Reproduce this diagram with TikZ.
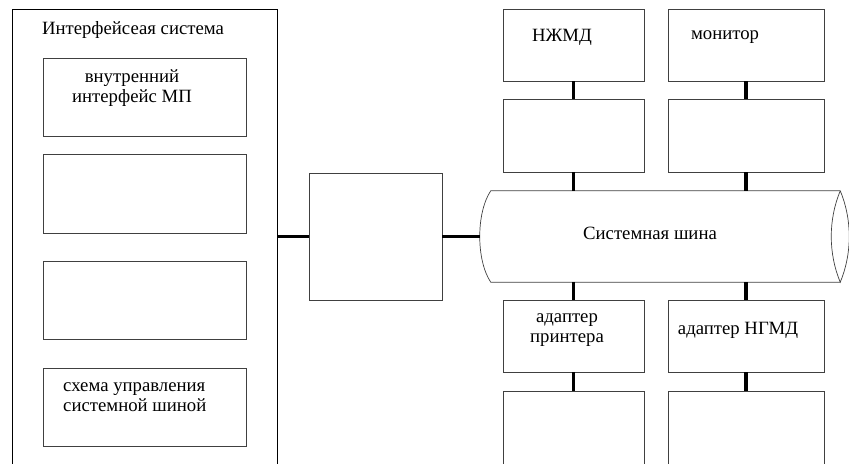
\documentclass[tikz,border=0pt]{standalone}
\usepackage{fontspec}
\setmainfont{Liberation Serif}
\usepackage{tikz}
\usetikzlibrary{shapes.geometric, positioning, calc}

\begin{document}
\begin{tikzpicture}[x=0.03cm, y=-0.03cm,
    blk/.style={draw=black!75, line width=0.6pt, rectangle, inner sep=0pt},
    busline/.style={draw=black!75, line width=0.6pt},
    lbl/.style={font=\fontsize{16}{17.5}\selectfont, inner sep=0pt, align=center},
    link/.style={line width=2.6pt}]
\useasboundingbox (0,0) rectangle (849,463);
\clip (0,0) rectangle (849,463);

% Interface system (left)
\node[blk, draw=black, minimum width=7.95cm, minimum height=14.13cm] (isys) at (144.5,244.5) {};
\node[lbl] (isystitle) at (133,30) {Интерфейсеая система};
\node[blk, minimum width=6.09cm, minimum height=2.34cm] (ib1) at (144.5,97) {};
\node[blk, minimum width=6.09cm, minimum height=2.37cm] (ib2) at (144.5,193.5) {};
\node[blk, minimum width=6.09cm, minimum height=2.34cm] (ib3) at (144.5,300) {};
\node[blk, minimum width=6.09cm, minimum height=2.34cm] (ib4) at (144.5,407) {};
\node[lbl] (ib1txt) at (132,88) {внутренний\\интерфейс МП};
\node[lbl, align=left, anchor=west] (ib4txt) at (63,397) {схема управления\\системной шиной};

% Middle block
\node[blk, minimum width=3.99cm, minimum height=3.81cm] (mid) at (375.5,236.5) {};

% System bus (horizontal cylinder)
\node[inner sep=0pt, minimum width=10.47cm, minimum height=2.73cm] (bus) at (665.5,236.5) {};
\draw[busline] (bus.north east) -- (bus.north west)
  .. controls ($(bus.north west)+(-14.7,22)$) and ($(bus.south west)+(-14.7,-22)$) .. (bus.south west)
  -- (bus.south east);
\draw[busline] (bus.north east)
  .. controls ($(bus.north east)+(-12,29)$) and ($(bus.south east)+(-12,-29)$) .. (bus.south east)
  .. controls ($(bus.south east)+(12,-29)$) and ($(bus.north east)+(12,29)$) .. (bus.north east);
\coordinate (buswest) at ($(bus.west)+(-11,0)$);
\node[lbl] (bustxt) at (650,233) {Системная шина};

% Devices above the bus
\node[blk, minimum width=4.23cm, minimum height=2.16cm] (hdd) at (573.5,45) {};
\node[blk, minimum width=4.68cm, minimum height=2.16cm] (mon) at (746,45) {};
\node[blk, minimum width=4.23cm, minimum height=2.19cm] (hddc) at (573.5,135.5) {};
\node[blk, minimum width=4.68cm, minimum height=2.19cm] (monc) at (746,135.5) {};
\node[lbl] (hddtxt) at (562,37) {НЖМД};
\node[lbl] (montxt) at (725,37) {монитор};

% Devices below the bus
\node[blk, minimum width=4.23cm, minimum height=2.16cm] (prn) at (573.5,336) {};
\node[blk, minimum width=4.68cm, minimum height=2.16cm] (fdd) at (746,336) {};
\node[blk, minimum width=4.23cm, minimum height=2.67cm] (prnd) at (573.5,435.5) {};
\node[blk, minimum width=4.68cm, minimum height=2.67cm] (fddd) at (746,435.5) {};
\node[lbl] (prntxt) at (567,330) {адаптер\\принтера};
\node[lbl] (fddtxt) at (738,330) {адаптер НГМД};

% Links
\draw[link] (isys.east |- mid.west) -- (mid.west);
\draw[link] (mid.east) -- (buswest);
\draw[link] (hdd) -- (hddc);
\draw[link] (mon) -- (monc);
\draw[link] (hddc) -- (hddc.south |- bus.north);
\draw[link] (monc) -- (monc.south |- bus.north);
\draw[link] (prn.north |- bus.south) -- (prn);
\draw[link] (fdd.north |- bus.south) -- (fdd);
\draw[link] (prn) -- (prnd);
\draw[link] (fdd) -- (fddd);
\end{tikzpicture}
\end{document}
